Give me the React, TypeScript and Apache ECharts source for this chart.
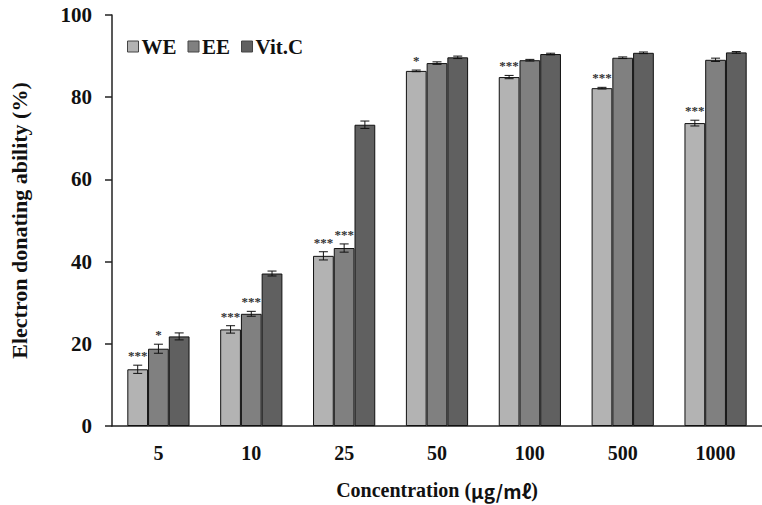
import React, { useEffect, useRef } from "react";
import * as echarts from "echarts";

const categories = ["5", "10", "25", "50", "100", "500", "1000"];
const seriesNames = ["WE", "EE", "Vit.C"];
const weValues = [13.8, 23.5, 41.4, 86.4, 84.9, 82.2, 73.7];
const eeValues = [18.8, 27.3, 43.3, 88.3, 89.0, 89.6, 89.1];
const vitcValues = [21.8, 37.1, 73.3, 89.7, 90.5, 90.8, 90.9];
const weErrors = [1.0, 0.9, 1.0, 0.2, 0.4, 0.2, 0.7];
const eeErrors = [1.1, 0.6, 1.0, 0.3, 0.2, 0.2, 0.4];
const vitcErrors = [0.85, 0.6, 0.9, 0.3, 0.2, 0.2, 0.2];
const weSignif = ["***", "***", "***", "*", "***", "***", "***"];
const eeSignif = ["*", "***", "***", "", "", "", ""];
const vitcSignif = ["", "", "", "", "", "", ""];
const yTicks = [0, 20, 40, 60, 80, 100];

const colors = ["#b3b3b3", "#808080", "#606060"];
const FONT = "'Liberation Serif', 'Times New Roman', serif";
const GAP = 0.33;

export default function App() {
  const ref = useRef<HTMLDivElement>(null);
  useEffect(() => {
    if (!ref.current) return;
    const chart = echarts.init(ref.current, null, { renderer: "svg" });
    const values = [weValues, eeValues, vitcValues];
    const errors = [weErrors, eeErrors, vitcErrors];
    const signif = [weSignif, eeSignif, vitcSignif];

    const barSeries = seriesNames.map((name, k) => ({
      name,
      type: "bar",
      data: values[k],
      barGap: "0%",
      barCategoryGap: GAP * 100 + "%",
      itemStyle: { color: colors[k], borderColor: "#111", borderWidth: 1 },
    }));

    const errSeries = seriesNames.map((name, k) => ({
      name: name + "_err",
      type: "custom",
      silent: true,
      z: 10,
      itemStyle: { color: "#333333" },
      data: categories.map((c, i) => [i, values[k][i], errors[k][i]]),
      renderItem: (params: any, api: any) => {
        const i = api.value(0);
        const v = api.value(1);
        const e = api.value(2);
        const s = signif[k][params.dataIndex] || "";
        const band = api.size([1, 0])[0];
        const barW = (band * (1 - GAP)) / 3;
        const center = api.coord([i, v]);
        const cx = center[0] + (k - 1) * barW;
        const top = api.coord([i, v + e])[1];
        const bot = api.coord([i, v - e])[1];
        const cap = 4.5;
        const st = { stroke: "#111111", lineWidth: 1, fill: "none" };
        const children: any[] = [
          { type: "line", shape: { x1: cx, y1: top, x2: cx, y2: bot }, style: st },
          { type: "line", shape: { x1: cx - cap, y1: top, x2: cx + cap, y2: top }, style: st },
          { type: "line", shape: { x1: cx - cap, y1: bot, x2: cx + cap, y2: bot }, style: st },
        ];
        if (s) {
          children.push({
            type: "text",
            x: cx,
            y: top - 3,
            style: {
              text: s,
              align: "center",
              verticalAlign: "bottom",
              fill: "#333333",
              fontFamily: FONT,
              fontWeight: "bold",
              fontSize: 13,
            },
          });
        }
        return { type: "group", children };
      },
    }));

    chart.setOption({
      animation: false,
      grid: { left: 110, right: -8, top: 15, bottom: 78, containLabel: false },
      legend: {
        data: seriesNames,
        left: 122,
        top: 31,
        itemWidth: 11,
        itemHeight: 11,
        itemGap: 11,
        icon: "rect",
        itemStyle: { borderColor: "#444", borderWidth: 1 },
        textStyle: { fontFamily: FONT, fontWeight: "bold", fontSize: 21, color: "#111", padding: [0, 0, 0, -2] },
      },
      xAxis: {
        type: "category",
        data: categories,
        name: "Concentration ({u|μg/mℓ})",
        nameLocation: "middle",
        nameGap: 54,
        nameTextStyle: {
          fontFamily: FONT,
          fontWeight: "bold",
          fontSize: 20,
          color: "#111",
          rich: {
            u: { fontFamily: "'Noto Sans CJK KR', 'Noto Sans', sans-serif", fontWeight: "bold", fontSize: 19, color: "#111" },
          },
        },
        axisLine: { lineStyle: { color: "#222", width: 1.5 } },
        axisTick: { inside: true, length: 7, lineStyle: { color: "#222", width: 1.5 } },
        axisLabel: { fontFamily: FONT, fontWeight: "bold", fontSize: 20, color: "#111", margin: 17 },
      },
      yAxis: {
        type: "value",
        min: yTicks[0],
        max: yTicks[yTicks.length - 1],
        interval: 20,
        name: "Electron donating ability (%)",
        nameLocation: "middle",
        nameGap: 82,
        nameTextStyle: { fontFamily: FONT, fontWeight: "bold", fontSize: 22, color: "#111" },
        axisLine: { show: true, lineStyle: { color: "#222", width: 1.5 } },
        axisTick: { show: true, inside: false, length: 7, lineStyle: { color: "#222", width: 1.5 } },
        axisLabel: { fontFamily: FONT, fontWeight: "bold", fontSize: 21, color: "#111", margin: 20 },
        splitLine: { show: false },
      },
      series: [...barSeries, ...errSeries],
    });
    return () => chart.dispose();
  }, []);
  return <div ref={ref} style={{ width: 762, height: 505, position: "absolute", left: 0, top: 0, background: "#fff" }} />;
}
